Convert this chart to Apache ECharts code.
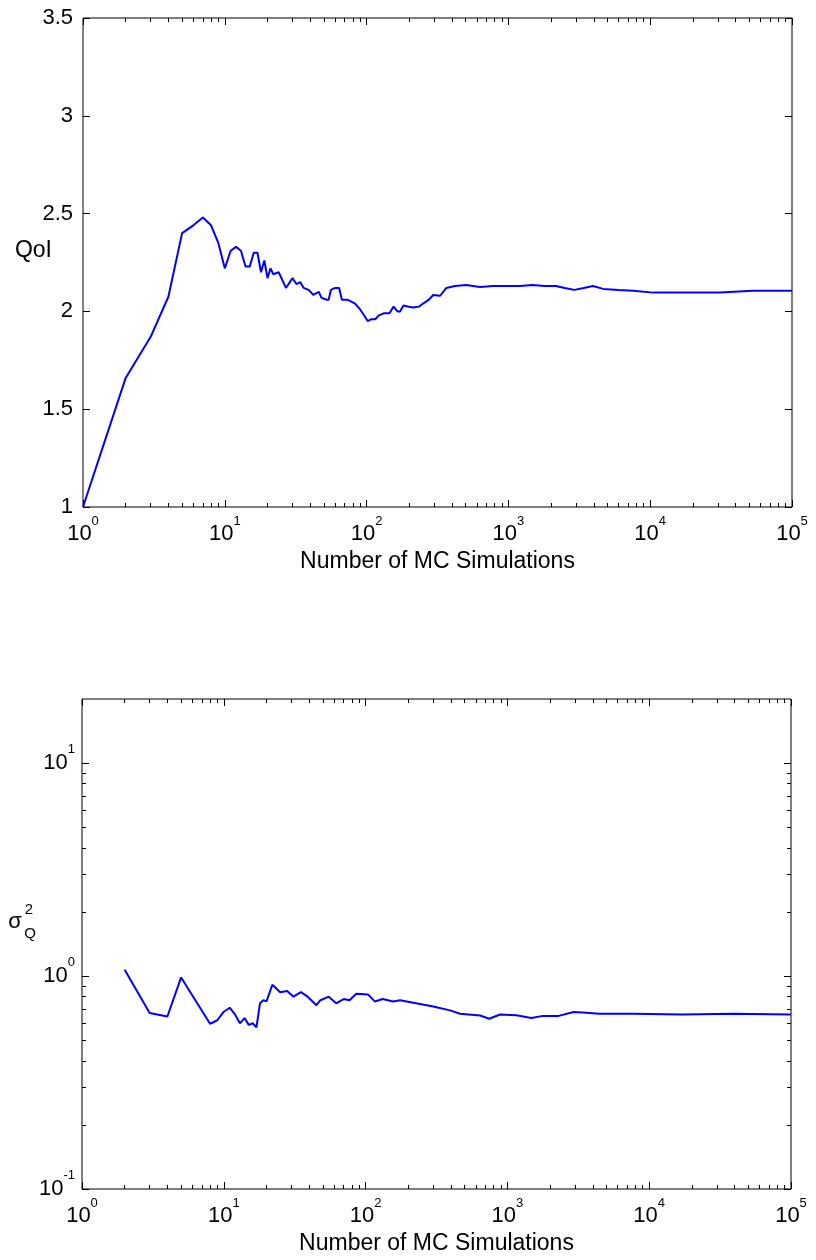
<!DOCTYPE html>
<html><head><meta charset="utf-8">
<script src="https://cdn.jsdelivr.net/npm/echarts@6/dist/echarts.min.js"></script>
<style>html,body{margin:0;padding:0;background:#fff}#c{width:816px;height:1260px}</style>
</head><body><div id="c"></div>
<script>
// ---- data ----
const qoiN = [1,2,3,4,5,6,7,8,9,10,11,12,13,14,15,16,17,18,19,20,21,22,24,27,30,32,34,36,39,42,46,48,52,54,56,60,64,67,73,78,83,90,96,102,108,115,122,132,145,155,165,172,182,195,213,235,250,275,295,330,365,420,505,630,780,960,1200,1480,1800,2160,2500,2920,3400,3950,4660,6000,7600,10500,17000,31000,53000,100000];
const qoiValue = [1.00,1.66,1.87,2.075,2.40,2.44,2.48,2.44,2.35,2.22,2.31,2.33,2.31,2.23,2.23,2.30,2.30,2.20,2.26,2.17,2.22,2.19,2.20,2.12,2.17,2.14,2.15,2.12,2.11,2.085,2.10,2.07,2.06,2.06,2.11,2.12,2.12,2.06,2.06,2.05,2.04,2.01,1.98,1.95,1.96,1.96,1.98,1.99,1.99,2.025,2.00,2.00,2.03,2.025,2.02,2.025,2.04,2.06,2.084,2.08,2.12,2.13,2.135,2.125,2.13,2.13,2.13,2.135,2.13,2.13,2.12,2.11,2.12,2.13,2.115,2.11,2.106,2.096,2.096,2.097,2.105,2.105];
const varN = [2,3,4,5,8,9,10,11,12,13,14,15,16,17,18,19,20,22,25,28,31,35,39,45,48,55,62,70,77,86,104,116,132,156,175,242,300,394,464,643,743,888,1160,1474,1780,2300,2930,3400,4470,7700,17000,39000,100000];
const varValue = [1.07,0.67,0.646,0.985,0.597,0.62,0.68,0.71,0.66,0.60,0.635,0.59,0.60,0.574,0.746,0.77,0.76,0.91,0.84,0.85,0.80,0.84,0.80,0.73,0.77,0.80,0.745,0.78,0.77,0.826,0.82,0.76,0.78,0.76,0.77,0.74,0.72,0.69,0.665,0.653,0.63,0.66,0.655,0.635,0.65,0.65,0.678,0.675,0.665,0.665,0.66,0.665,0.66];

// ---- ticks / labels ----
const xDecadeExponents = [0,1,2,3,4,5];
const minorMultipliers = [2,3,4,5,6,7,8,9];
const varDecadeExponents = [-1,0,1];
const xAxisTitle = 'Number of MC Simulations';
const qoiTitle = 'QoI';
const xRange = [1, 100000];
const qoiRange = [1, 3.5];
const varRange = [0.1, 20];

const FONT = '"Liberation Sans", Arial, Helvetica, sans-serif';
const BLACK = '#000';
function minorLogs(exps, lo, hi) {
  const out = [];
  exps.forEach(e => minorMultipliers.forEach(m => {
    const v = e + Math.log10(m);
    if (v > lo && v < hi) out.push(v);
  }));
  return out;
}
const xLo = Math.log10(xRange[0]), xHi = Math.log10(xRange[1]);
const vLo = Math.log10(varRange[0]), vHi = Math.log10(varRange[1]);
const xMinor = minorLogs(xDecadeExponents, xLo, xHi);
const vMinor = minorLogs(varDecadeExponents, vLo, vHi);

const powFmt = v => '{b|10}{s|' + Math.round(v) + '}';
const xRich = {
  b: {fontFamily: FONT, fontSize: 22, color: BLACK},
  s: {fontFamily: FONT, fontSize: 13, color: BLACK, padding: [0, 0, 25, 0]}
};
const yRich = {
  b: {fontFamily: FONT, fontSize: 22, color: BLACK},
  s: {fontFamily: FONT, fontSize: 13, color: BLACK, padding: [0, 0, 28, 0]}
};

function decoAxis(grid, pos, lo, hi, values, len, label, extra) {
  return Object.assign({
    type: 'value', gridIndex: grid, position: pos, min: lo, max: hi,
    axisLine: {show: false, onZero: false}, splitLine: {show: false},
    axisTick: {show: true, inside: true, length: len, customValues: values,
               lineStyle: {color: BLACK, width: 1}},
    axisLabel: label ? Object.assign({show: true, customValues: values}, label) : {show: false}
  }, extra || {});
}
const nameStyle = {fontFamily: FONT, fontSize: 23, color: BLACK};

const xAxes = [];
const yAxes = [];
[0, 1].forEach(g => {
  xAxes.push({type: 'log', logBase: 10, gridIndex: g, min: xRange[0], max: xRange[1], show: false,
              axisLine: {onZero: false}});
  xAxes.push(decoAxis(g, 'bottom', xLo, xHi, xDecadeExponents, 7,
    {formatter: powFmt, rich: xRich, margin: 8},
    {name: xAxisTitle, nameLocation: 'middle', nameGap: 43, nameTextStyle: nameStyle}));
  xAxes.push(decoAxis(g, 'bottom', xLo, xHi, xMinor, 4, null));
  xAxes.push(decoAxis(g, 'top', xLo, xHi, xDecadeExponents, 7, null));
  xAxes.push(decoAxis(g, 'top', xLo, xHi, xMinor, 4, null));
});
// top plot y axes
yAxes.push({
  type: 'value', gridIndex: 0, position: 'left', min: qoiRange[0], max: qoiRange[1], interval: 0.5,
  axisLine: {show: false, onZero: false}, splitLine: {show: false},
  axisTick: {show: true, inside: true, length: 7, lineStyle: {color: BLACK}},
  axisLabel: {color: BLACK, fontFamily: FONT, fontSize: 22, margin: 10},
  name: qoiTitle, nameLocation: 'middle', nameRotate: 0, nameGap: 31, nameMoveOverlap: false,
  nameTextStyle: Object.assign({verticalAlign: 'bottom'}, nameStyle)
});
yAxes.push({
  type: 'value', gridIndex: 0, position: 'right', min: qoiRange[0], max: qoiRange[1], interval: 0.5,
  axisLine: {show: false, onZero: false}, splitLine: {show: false},
  axisTick: {show: true, inside: true, length: 7, lineStyle: {color: BLACK}},
  axisLabel: {show: false}
});
// bottom plot y axes
yAxes.push({type: 'log', logBase: 10, gridIndex: 1, min: varRange[0], max: varRange[1], show: false,
            axisLine: {onZero: false}});
yAxes.push(decoAxis(1, 'left', vLo, vHi, varDecadeExponents, 7, {formatter: powFmt, rich: yRich, margin: 7}));
yAxes.push(decoAxis(1, 'left', vLo, vHi, vMinor, 4, null));
yAxes.push(decoAxis(1, 'right', vLo, vHi, varDecadeExponents, 7, null));
yAxes.push(decoAxis(1, 'right', vLo, vHi, vMinor, 4, null));

const lineStyle = {color: '#0000ff', width: 2};
const chart = echarts.init(document.getElementById('c'), null, {renderer: 'canvas'});
chart.setOption({
  animation: false,
  backgroundColor: '#fff',
  grid: [
    {left: 83, top: 18, width: 709, height: 489, show: true, borderColor: BLACK, borderWidth: 1,
     containLabel: false, outerBoundsMode: 'none'},
    {left: 82, top: 699, width: 709, height: 490, show: true, borderColor: BLACK, borderWidth: 1,
     containLabel: false, outerBoundsMode: 'none'}
  ],
  xAxis: xAxes,
  yAxis: yAxes,
  graphic: [
    {type: 'text', x: 15, y: 922, style: {text: 'σ', font: '22px ' + FONT, fill: BLACK,
      align: 'center', verticalAlign: 'middle', textAlign: 'center', textVerticalAlign: 'middle'}},
    {type: 'text', x: 29, y: 910, style: {text: '2', font: '15px ' + FONT, fill: BLACK,
      align: 'center', verticalAlign: 'middle', textAlign: 'center', textVerticalAlign: 'middle'}},
    {type: 'text', x: 30, y: 934, style: {text: 'Q', font: '15px ' + FONT, fill: BLACK,
      align: 'center', verticalAlign: 'middle', textAlign: 'center', textVerticalAlign: 'middle'}}
  ],
  series: [
    {type: 'line', xAxisIndex: 0, yAxisIndex: 0, showSymbol: false, symbol: 'none',
     lineStyle: lineStyle, data: qoiN.map((n, i) => [n, qoiValue[i]])},
    {type: 'line', xAxisIndex: 5, yAxisIndex: 2, showSymbol: false, symbol: 'none',
     lineStyle: lineStyle, data: varN.map((n, i) => [n, varValue[i]])}
  ]
});
</script></body></html>
